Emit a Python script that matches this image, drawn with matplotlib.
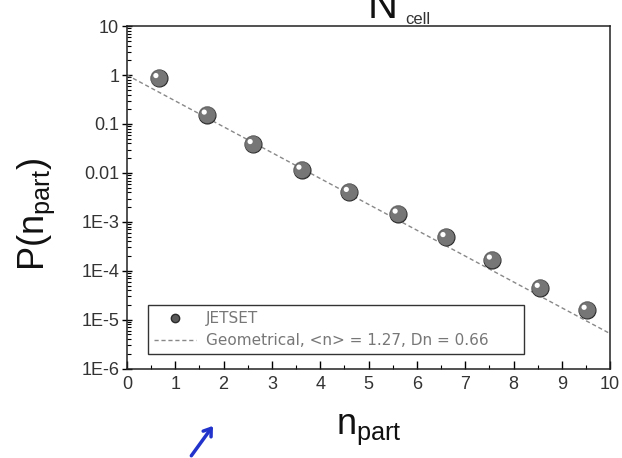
import numpy as np
import matplotlib
matplotlib.use("Agg")
import matplotlib.pyplot as plt
from matplotlib.lines import Line2D

plt.rcParams['font.family'] = ['Liberation Sans', 'DejaVu Sans']

# JETSET multiplicity per cell
n_part = [0.66, 1.66, 2.61, 3.62, 4.60, 5.61, 6.60, 7.56, 8.55, 9.52]
p_jetset = [0.87, 0.156, 0.039, 0.0117, 0.0041, 0.00148, 4.9e-4, 1.7e-4, 4.5e-5, 1.6e-5]

# geometrical fit, end points of the dashed line
fit_x = [0.0, 10.0]
fit_y = [1.0, 5.2e-6]

ytick_vals = [10, 1, 0.1, 0.01, 1e-3, 1e-4, 1e-5, 1e-6]
ytick_text = ['10', '1', '0.1', '0.01', '1E-3', '1E-4', '1E-5', '1E-6']
xtick_vals = list(range(0, 11))

fig = plt.figure(figsize=(6.22, 4.58), dpi=100)
ax = fig.add_axes([0.204, 0.195, 0.777, 0.748])

ax.plot(fit_x, fit_y, ls=(0, (3, 2)), color='#888888', lw=1.0, zorder=2)
# sphere-like markers: dark ball + small highlight
ax.scatter(n_part, p_jetset, s=150, color='#5a5a5a', edgecolors='#2a2a2a',
           linewidths=0.8, zorder=3)
ax.scatter(n_part, p_jetset, s=150, color='#8a8a8a', edgecolors='none',
           alpha=0.6, zorder=3.5)
hx = np.array(n_part) - 0.06
hy = np.array(p_jetset) * 10 ** 0.05
ax.scatter(hx, hy, s=14, color='white', edgecolors='none', zorder=4)

ax.set_yscale('log')
ax.set_xlim(0, 10)
ax.set_ylim(1e-6, 10)
ax.set_yticks(ytick_vals)
ax.set_yticklabels(ytick_text)
ax.set_xticks(xtick_vals)
ax.set_xticks(np.arange(0.5, 10, 1.0), minor=True)
ax.yaxis.set_minor_locator(matplotlib.ticker.LogLocator(base=10, subs=np.arange(2, 10)))
ax.yaxis.set_minor_formatter(matplotlib.ticker.NullFormatter())

ax.tick_params(axis='y', which='major', direction='inout', length=7, width=1.0,
               labelsize=13, labelcolor='#333333', pad=2)
ax.tick_params(axis='y', which='minor', direction='in', length=3, width=0.8)
ax.tick_params(axis='x', which='major', direction='in', length=6, width=1.0,
               labelsize=13, labelcolor='#333333', pad=5)
ax.tick_params(axis='x', which='minor', direction='in', length=3, width=0.8)
for s in ax.spines.values():
    s.set_linewidth(1.1)
    s.set_color('#222222')

ax.set_xlabel(r'n$_{\mathregular{part}}$', fontsize=26, color='#111111', labelpad=14)
ax.set_ylabel(r'P(n$_{\mathregular{part}}$)', fontsize=26, color='#111111')
ax.yaxis.set_label_coords(-0.145, 0.45)

handles = [
    Line2D([], [], marker='o', ls='none', markersize=6, markerfacecolor='#5a5a5a',
           markeredgecolor='#2a2a2a'),
    Line2D([], [], ls=(0, (3, 2)), color='#888888', lw=1.0),
]
labels = ['JETSET', 'Geometrical, <n> = 1.27, Dn = 0.66']
leg = ax.legend(handles, labels, loc='lower left', bbox_to_anchor=(0.027, 0.02, 0.81, 0.16),
                mode='expand', prop={'family': 'DejaVu Sans', 'size': 11},
                frameon=True, fancybox=False,
                edgecolor='#333333', framealpha=1, handlelength=2.8,
                borderpad=0.4, labelspacing=0.45, handletextpad=0.6)
leg.get_frame().set_linewidth(1.0)
for t in leg.get_texts():
    t.set_color('#777777')

# N_cell heading, partly above the top edge
fig.text(0.615, 0.985, 'N', fontsize=30, color='#111111', ha='center', va='center')
fig.text(0.672, 0.958, 'cell', fontsize=12, color='#333333', ha='center', va='center')

# pen arrow below the axis
fig.add_artist(matplotlib.patches.FancyArrowPatch(
    (0.305, 0.0), (0.345, 0.075), transform=fig.transFigure,
    arrowstyle='->,head_length=5,head_width=3.5', color='#2233cc', lw=2.5))

fig.savefig('out.png', dpi=100)
